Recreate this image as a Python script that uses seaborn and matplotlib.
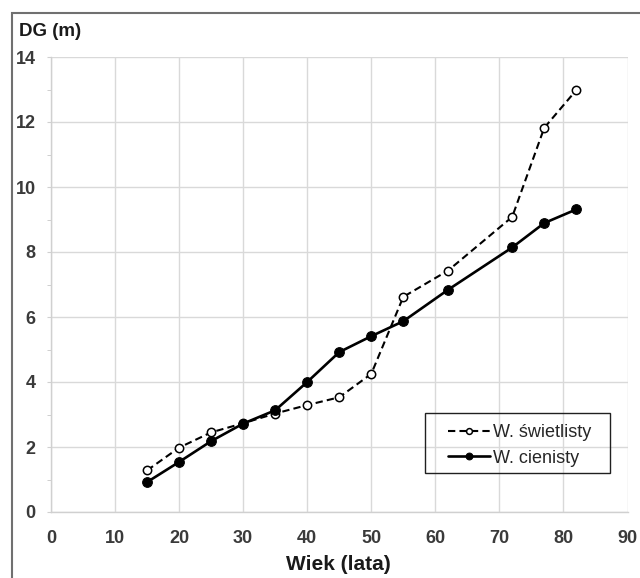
import matplotlib
matplotlib.use('Agg')
import matplotlib.pyplot as plt
from matplotlib.patches import Rectangle
from matplotlib.ticker import MultipleLocator
import pandas as pd
import seaborn as sns

# data
wiek = [15, 20, 25, 30, 35, 40, 45, 50, 55, 62, 72, 77, 82]
w_swietlisty = [1.28, 1.98, 2.45, 2.73, 3.03, 3.29, 3.53, 4.25, 6.62, 7.43, 9.08, 11.82, 12.98]
w_cienisty = [0.92, 1.54, 2.18, 2.72, 3.13, 4.0, 4.92, 5.41, 5.87, 6.84, 8.14, 8.89, 9.31]
labels = ['W. świetlisty', 'W. cienisty']

df = pd.DataFrame({'wiek': wiek, 'swietlisty': w_swietlisty, 'cienisty': w_cienisty})

sns.set_style('white')
plt.rcParams['font.family'] = ['Liberation Sans', 'DejaVu Sans']

W, H = 640, 578
fig = plt.figure(figsize=(W / 100, H / 100), dpi=100)
ax = fig.add_axes([51 / W, 1 - 512 / H, 576.5 / W, 455 / H])

#open circles, dashed line
sns.lineplot(data=df, x='wiek', y='swietlisty', ax=ax, color='black',
             linestyle=(0, (3.5, 2)), linewidth=1.5, marker='o', markersize=6,
             markerfacecolor='white', markeredgecolor='black', markeredgewidth=1.1,
             label=labels[0])
#filled circles, solid line
sns.lineplot(data=df, x='wiek', y='cienisty', ax=ax, color='black',
             linewidth=1.9, marker='o', markersize=7,
             markerfacecolor='black', markeredgecolor='black',
             label=labels[1])

ax.set_xlim(0, 90)
ax.set_ylim(0, 14)
ax.xaxis.set_major_locator(MultipleLocator(10))
ax.yaxis.set_major_locator(MultipleLocator(2))
ax.yaxis.set_minor_locator(MultipleLocator(1))
ax.grid(True, which='major', color='#d9d9d9', linewidth=1.0)
ax.set_axisbelow(True)

for side in ['top', 'right']:
    ax.spines[side].set_visible(False)
for side in ['left', 'bottom']:
    ax.spines[side].set_color('#d0d0d0')
    ax.spines[side].set_linewidth(1.0)

ax.tick_params(axis='both', which='major', length=3, color='#d0d0d0',
               labelsize=13, labelcolor='#3a3a3a')
ax.tick_params(axis='y', which='minor', length=3, color='#c8c8c8', left=True)
ax.tick_params(axis='y', which='major', left=True, pad=8)
ax.tick_params(axis='x', which='major', bottom=False, pad=10)
for lab in ax.get_xticklabels() + ax.get_yticklabels():
    lab.set_fontweight('bold')

ax.set_xlabel('')
ax.set_ylabel('')
fig.text(338 / W, 1 - 565 / H, 'Wiek (lata)', ha='center', va='center',
         fontsize=15, fontweight='bold', color='#1a1a1a')
fig.text(19 / W, 1 - 31 / H, 'DG (m)', ha='left', va='center',
         fontsize=13.5, fontweight='bold', color='#1a1a1a')

#legend without frame, frame drawn afterwards with wider side margins
leg = ax.legend(loc='lower right', bbox_to_anchor=(0.947, 0.088), frameon=False,
                fontsize=13, handlelength=2.3, handletextpad=0.2,
                borderpad=0.3, labelspacing=0.45, borderaxespad=0,
                markerscale=0.7)
for t in leg.get_texts():
    t.set_color('#262626')

fig.canvas.draw()
bb = leg.get_window_extent().transformed(fig.transFigure.inverted())
dx_l, dx_r = 18 / W, 13 / W
dy_b, dy_t = 1 / H, 6 / H
fig.patches.append(Rectangle((bb.x0 - dx_l, bb.y0 - dy_b),
                             bb.width + dx_l + dx_r, bb.height + dy_b + dy_t,
                             transform=fig.transFigure, fill=False,
                             edgecolor='#202020', linewidth=1.0, zorder=5))

#outer frame around the figure
fig.patches.append(Rectangle((12 / W, -0.01), 1.0, 1 - 13 / H + 0.01,
                             transform=fig.transFigure, fill=False,
                             edgecolor='#707070', linewidth=1.5))

fig.savefig('out.png', dpi=100)
